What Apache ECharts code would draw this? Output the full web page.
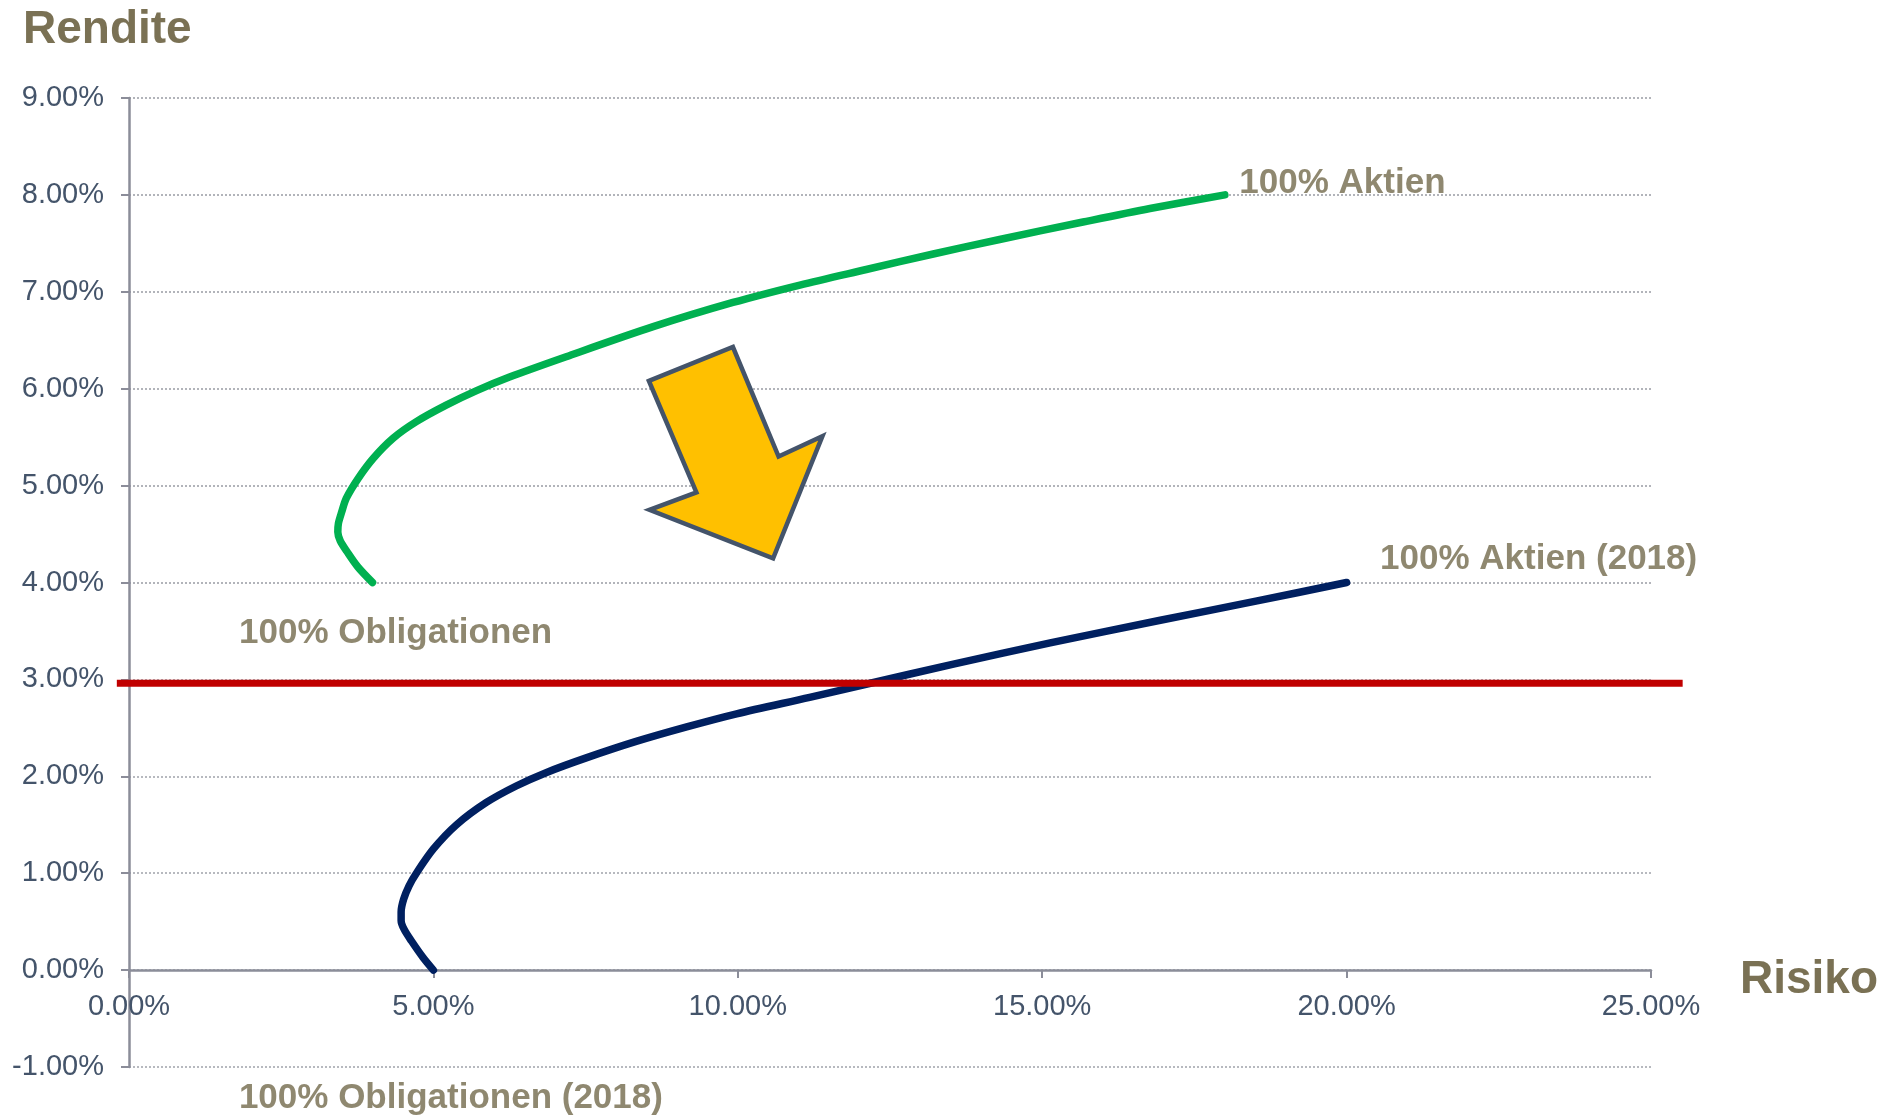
<!DOCTYPE html>
<html>
<head>
<meta charset="utf-8">
<script src="https://cdn.jsdelivr.net/npm/echarts@6/dist/echarts.min.js"></script>
<style>
html,body{margin:0;padding:0;background:#ffffff;}
#chart{width:1895px;height:1115px;}
</style>
</head>
<body>
<div id="chart"></div>
<script>
// ---------- data ----------
const xTickLabels = ['0.00%', '5.00%', '10.00%', '15.00%', '20.00%', '25.00%'];
const yTickLabels = ['-1.00%', '0.00%', '1.00%', '2.00%', '3.00%', '4.00%', '5.00%', '6.00%', '7.00%', '8.00%', '9.00%'];

const axisTitles = ['Risiko', 'Rendite'];

// Efficient frontier (before)
const greenRisk   = [4.00, 3.76, 3.58, 3.47, 3.43, 3.44, 3.49, 3.57, 3.76, 4.01, 4.34, 4.72, 5.21, 5.71, 6.25, 7.18, 8.61, 9.92, 11.02, 12.11, 13.21, 14.30, 15.67, 16.77, 18.00];
const greenReturn = [4.00, 4.16, 4.32, 4.43, 4.52, 4.61, 4.72, 4.87, 5.07, 5.28, 5.49, 5.66, 5.83, 5.98, 6.12, 6.33, 6.64, 6.89, 7.07, 7.23, 7.39, 7.54, 7.72, 7.86, 8.00];
const greenLabels = ['100% Obligationen', '100% Aktien'];

// Efficient frontier (2018)
const blueRisk   = [5.00, 4.83, 4.64, 4.52, 4.47, 4.47, 4.51, 4.60, 4.72, 5.00, 5.38, 5.87, 6.36, 6.86, 7.51, 8.33, 9.16, 9.98, 11.18, 12.07, 13.56, 15.15, 16.94, 18.53, 20.00];
const blueReturn = [0.00, 0.13, 0.30, 0.42, 0.51, 0.60, 0.73, 0.87, 1.00, 1.25, 1.50, 1.73, 1.90, 2.04, 2.19, 2.36, 2.51, 2.645, 2.815, 2.945, 3.16, 3.38, 3.61, 3.81, 4.00];
const blueLabels = ['100% Obligationen (2018)', '100% Aktien (2018)'];

// Target return line
const targetRisk   = [-0.2, 25.52];
const targetReturn = [2.96, 2.96];

// Shift arrow outline (data coordinates)
const arrowRisk   = [8.54, 9.92, 10.67, 11.39, 10.58, 8.55, 9.32];
const arrowReturn = [6.08, 6.43, 5.30, 5.51, 4.25, 4.75, 4.93];

// ---------- styles ----------
const FONT = "'Liberation Sans', Arial, Helvetica, sans-serif";
const TICK_COLOR = '#44546A';
const TITLE_COLOR = '#7A7154';
const LABEL_COLOR = '#736A4C';
const AXIS_COLOR = '#8B8D99';

const zip = (a, b) => a.map((v, i) => [v, b[i]]);

const greenData = zip(greenRisk, greenReturn);
const blueData = zip(blueRisk, blueReturn);
const targetData = zip(targetRisk, targetReturn);

const labelPoints = [
  { value: greenData[0], name: greenLabels[0], label: { offset: [-134, 51] } },
  { value: greenData[greenData.length - 1], name: greenLabels[1], label: { offset: [14, -12] } },
  { value: blueData[0], name: blueLabels[0], label: { offset: [-195, 128] } },
  { value: blueData[blueData.length - 1], name: blueLabels[1], label: { offset: [33, -23] } }
];

const chart = echarts.init(document.getElementById('chart'), null, { renderer: 'canvas' });

const option = {
  animation: false,
  backgroundColor: '#ffffff',
  grid: { left: 129, right: 244, top: 98, bottom: 48, containLabel: false },
  xAxis: {
    type: 'value',
    min: 0, max: 25, interval: 5,
    offset: -96.9,
    axisLine: { show: true, onZero: false, lineStyle: { color: AXIS_COLOR, width: 2.5 } },
    axisTick: { show: true, length: 8, lineStyle: { color: AXIS_COLOR, width: 2 } },
    axisLabel: {
      margin: 22,
      color: TICK_COLOR, fontSize: 29, fontFamily: FONT,
      formatter: v => xTickLabels[Math.round(v / 5)]
    },
    splitLine: { show: false }
  },
  yAxis: {
    type: 'value',
    min: -1, max: 9, interval: 1,
    axisLine: { show: true, lineStyle: { color: AXIS_COLOR, width: 2.5 } },
    axisTick: { show: true, length: 8, lineStyle: { color: AXIS_COLOR, width: 2 } },
    axisLabel: {
      margin: 25,
      color: TICK_COLOR, fontSize: 29, fontFamily: FONT,
      formatter: v => yTickLabels[Math.round(v) + 1]
    },
    splitLine: { show: true, lineStyle: { color: '#A0A2AA', width: 1.6, type: [2, 2] } }
  },
  series: [
    {
      name: 'Effizienzkurve',
      type: 'line',
      data: greenData,
      smooth: 0.3,
      symbol: 'none',
      lineStyle: { color: '#00B050', width: 7.5, cap: 'round', join: 'round' },
      z: 3
    },
    {
      name: 'Effizienzkurve 2018',
      type: 'line',
      data: blueData,
      smooth: 0.3,
      symbol: 'none',
      lineStyle: { color: '#002060', width: 7.5, cap: 'round', join: 'round' },
      z: 3
    },
    {
      name: 'Beschriftung',
      type: 'scatter',
      data: labelPoints,
      symbolSize: 1,
      itemStyle: { color: 'rgba(0,0,0,0)' },
      label: {
        show: true,
        position: 'right',
        distance: 0,
        formatter: p => p.name,
        color: LABEL_COLOR,
        fontSize: 35,
        fontWeight: 'bold',
        fontFamily: FONT
      },
      z: 5
    }
  ]
};

chart.setOption(option);

const toPx = (x, y) => chart.convertToPixel({ gridIndex: 0 }, [x, y]);
const arrowPts = arrowRisk.map((x, i) => toPx(x, arrowReturn[i]));
const targetPts = targetData.map(p => toPx(p[0], p[1]));

chart.setOption({
  graphic: [
    {
      type: 'line',
      shape: { x1: targetPts[0][0], y1: targetPts[0][1], x2: targetPts[1][0], y2: targetPts[1][1] },
      style: { stroke: '#C00000', lineWidth: 7 },
      z: 9
    },
    {
      type: 'polygon',
      shape: { points: arrowPts },
      style: { fill: '#FFC000', stroke: '#44546A', lineWidth: 4.5, lineJoin: 'miter' },
      z: 10
    },
    {
      type: 'text',
      x: 23, y: 30,
      style: {
        text: axisTitles[1],
        fill: TITLE_COLOR,
        font: "bold 46px 'Liberation Sans', Arial, sans-serif",
        align: 'left',
        verticalAlign: 'middle'
      },
      z: 10
    },
    {
      type: 'text',
      x: 1740, y: 980,
      style: {
        text: axisTitles[0],
        fill: TITLE_COLOR,
        font: "bold 46px 'Liberation Sans', Arial, sans-serif",
        align: 'left',
        verticalAlign: 'middle'
      },
      z: 10
    }
  ]
});
</script>
</body>
</html>
